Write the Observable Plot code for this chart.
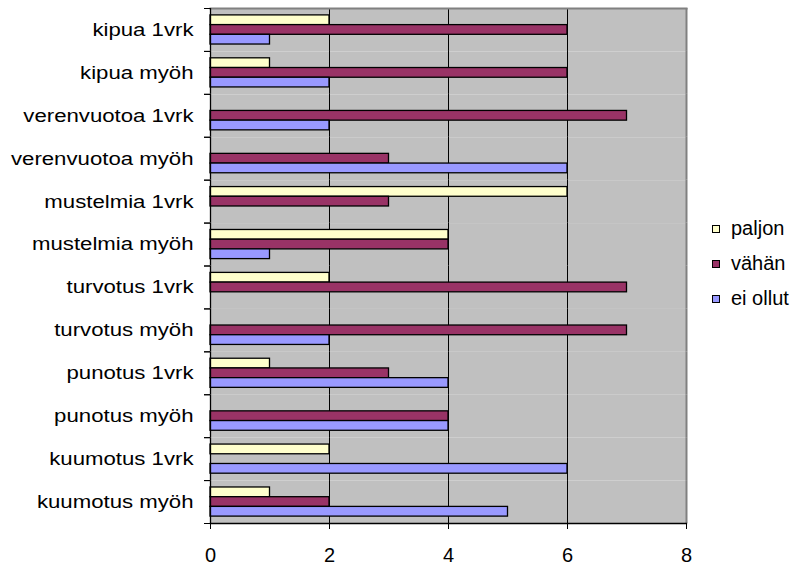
<!DOCTYPE html>
<html>
<head>
<meta charset="utf-8">
<script src="https://cdn.jsdelivr.net/npm/d3@7"></script>
<script src="https://cdn.jsdelivr.net/npm/@observablehq/plot@0.6"></script>
<style>
  html, body { margin: 0; padding: 0; background: #fff; }
  #wrap { position: relative; width: 796px; height: 565px; font-family: "Liberation Sans", Arial, sans-serif; }
  #legend { position: absolute; left: 712px; top: 211px; font-size: 20px; color: #000; }
  #legend .row { height: 35px; line-height: 35px; white-space: nowrap; }
  #legend .sw { display: inline-block; width: 8px; height: 8px; box-sizing: border-box; border: 1.3px solid #000; margin-right: 11px; vertical-align: middle; position: relative; top: -1px; }
</style>
</head>
<body>
<div id="wrap"><div id="chart"></div><div id="legend"></div></div>
<script>
const categories = ["kipua 1vrk", "kipua myöh", "verenvuotoa 1vrk", "verenvuotoa myöh", "mustelmia 1vrk", "mustelmia myöh", "turvotus 1vrk", "turvotus myöh", "punotus 1vrk", "punotus myöh", "kuumotus 1vrk", "kuumotus myöh"];
const series = ["paljon", "vähän", "ei ollut"];
const paljon = [2, 1, 0, 0, 6, 4, 2, 0, 1, 0, 2, 1];
const vahan = [6, 6, 7, 3, 3, 4, 7, 7, 3, 4, 0, 2];
const eiOllut = [1, 2, 2, 6, 0, 1, 0, 2, 4, 4, 6, 5];
const colors = ["#FFFFCC", "#993366", "#9999FF"];
const xTicks = [0, 2, 4, 6, 8];
const gridValues = [2, 4, 6];

const W = 796, H = 565, mL = 210, mR = 110, mT = 8, mB = 42;
const values = [paljon, vahan, eiOllut];
const data = categories.flatMap((c, i) => series.map((s, j) => ({category: c, series: s, value: values[j][i]})));
const bars = data.filter(d => d.value > 0);
const band = (H - mT - mB) / categories.length;

const chart = Plot.plot({
  width: W, height: H,
  marginLeft: mL, marginRight: mR, marginTop: mT, marginBottom: mB,
  style: {fontFamily: "'Liberation Sans', Arial, sans-serif", fontSize: "20px", color: "black", background: "white"},
  x: {domain: [0, 8], axis: null},
  y: {domain: series, axis: null, paddingInner: 0, paddingOuter: 0.71, round: false},
  fy: {domain: categories, axis: null, padding: 0, round: false},
  color: {domain: series, range: colors},
  marks: [
    Plot.frame({fill: "#C0C0C0", stroke: "none"}),
    Plot.gridX(gridValues, {stroke: "black", strokeOpacity: 1, strokeWidth: 1}),
    Plot.ruleX([8], {stroke: "#808080", strokeWidth: 2}),
    Plot.frame({anchor: "top", facetAnchor: "top", stroke: "#808080", strokeWidth: 2}),
    Plot.barX(bars, {x: "value", y: "series", fy: "category", fill: "series", stroke: "black", strokeWidth: 1.3}),
    Plot.ruleX([0], {stroke: "black", strokeWidth: 1.3}),
    Plot.frame({anchor: "bottom", facetAnchor: "bottom", stroke: "black", strokeWidth: 1.3}),
    Plot.axisX(xTicks, {tickSize: 6, tickPadding: 18, fontSize: 20, label: null}),
    Plot.axisFy({anchor: "left", tickSize: 0, tickPadding: 17, fontSize: 18.5, label: null}),
    Plot.axisFy({anchor: "left", tickSize: 6, tickFormat: () => "", dy: -band / 2, label: null}),
    Plot.axisFy({anchor: "left", tickSize: 6, tickFormat: () => "", dy: band / 2, label: null})
  ]
});
document.getElementById("chart").appendChild(chart);

// horizontal stretch of the category labels, as in the reference
d3.select(chart).selectAll("g[aria-label='fy-axis tick label'] text").each(function() {
  const t = this.getAttribute("transform");
  if (t) {
    this.setAttribute("transform", t + " scale(1.2,1)");
  } else {
    const x = this.getAttribute("x") || 0, y = this.getAttribute("y") || 0;
    this.removeAttribute("x"); this.removeAttribute("y");
    this.setAttribute("transform", `translate(${x},${y}) scale(1.2,1)`);
  }
});

const legend = d3.select("#legend");
series.forEach((s, i) => {
  const row = legend.append("div").attr("class", "row");
  row.append("span").attr("class", "sw").style("background", colors[i]);
  row.append("span").text(s);
});
</script>
</body>
</html>
